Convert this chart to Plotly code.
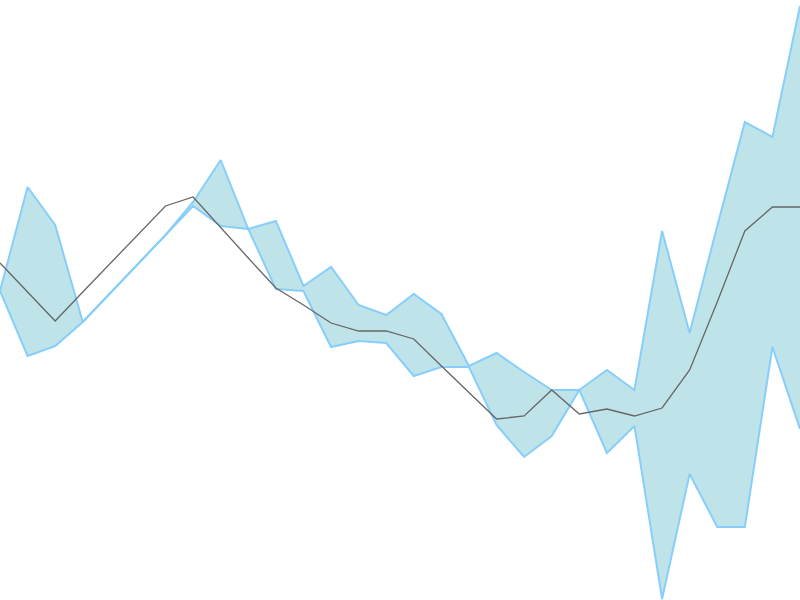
import plotly.graph_objects as go

# x positions (30 evenly spaced samples)
idx = list(range(30))

# values (higher = further up)
upper = [309, 413, 375, 278, 307, 336, 365, 398, 440, 371,
         379, 314, 333, 295, 285, 306, 286, 234, 247, 228,
         210, 210, 230, 210, 369, 267, 374, 478, 463, 594]
lower = [309, 244, 254, 278, 307, 336, 365, 394, 374, 371,
         311, 309, 253, 259, 257, 224, 233, 233, 175, 143,
         164, 210, 147, 174, 1, 126, 73, 73, 253, 171]
middle = [337, 308, 279, 308, 337, 366, 394, 403, 372, 342,
          312, 295, 277, 269, 269, 261, 234, 208, 181, 184,
          210, 186, 191, 184, 192, 230, 298, 369, 393, 393]

fig = go.Figure()
fig.add_trace(go.Scatter(x=idx, y=lower, mode="lines",
                         line=dict(color="#87CEFA", width=2),
                         hoverinfo="skip", showlegend=False))
fig.add_trace(go.Scatter(x=idx, y=upper, mode="lines", fill="tonexty",
                         fillcolor="rgb(190,227,232)",
                         line=dict(color="#87CEFA", width=2),
                         hoverinfo="skip", showlegend=False))
fig.add_trace(go.Scatter(x=idx, y=middle, mode="lines",
                         line=dict(color="#666666", width=1.3),
                         showlegend=False))

fig.update_layout(
    width=800, height=600,
    margin=dict(l=0, r=0, t=0, b=0),
    paper_bgcolor="white", plot_bgcolor="white",
    xaxis=dict(visible=False, range=[0, 29]),
    yaxis=dict(visible=False, range=[0, 600]),
)
fig.write_html("out.html",
               config={"displayModeBar": False},
               post_script="document.body.style.margin='0';document.body.style.overflow='hidden';")
